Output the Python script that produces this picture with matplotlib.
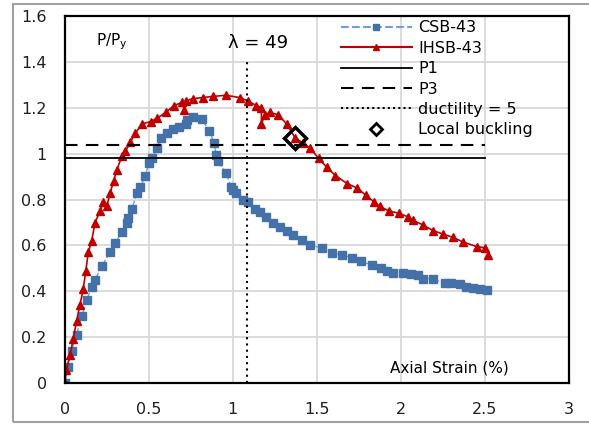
import matplotlib.pyplot as plt
from matplotlib.lines import Line2D
from matplotlib.patches import Rectangle

# CSB-43 test (strain %, P/Py)
csb_strain = [0, 0.02, 0.04, 0.07, 0.10, 0.13, 0.16, 0.18, 0.22, 0.27, 0.30, 0.34,
              0.37, 0.375, 0.40, 0.43, 0.45, 0.48, 0.50, 0.52, 0.55, 0.57, 0.61,
              0.645, 0.68, 0.72, 0.73, 0.76, 0.815, 0.86, 0.89, 0.90, 0.91, 0.96,
              0.99, 1.00, 1.02, 1.06, 1.09, 1.13, 1.16, 1.20, 1.24, 1.28, 1.32, 1.36,
              1.41, 1.46, 1.53, 1.59, 1.65, 1.71, 1.76, 1.83, 1.88, 1.92, 1.95,
              2.01, 2.06, 2.10, 2.13, 2.19, 2.26, 2.30, 2.35, 2.39, 2.43, 2.47, 2.51]
csb_load = [0, 0.07, 0.14, 0.21, 0.29, 0.36, 0.42, 0.45, 0.51, 0.57, 0.61, 0.66,
            0.70, 0.72, 0.76, 0.83, 0.855, 0.905, 0.96, 0.98, 1.025, 1.07, 1.09,
            1.11, 1.115, 1.13, 1.145, 1.16, 1.15, 1.10, 1.045, 0.995, 0.97, 0.915,
            0.855, 0.84, 0.83, 0.80, 0.79, 0.76, 0.745, 0.725, 0.70, 0.68, 0.665, 0.645,
            0.625, 0.60, 0.59, 0.565, 0.56, 0.545, 0.53, 0.515, 0.50, 0.49, 0.48,
            0.48, 0.475, 0.47, 0.455, 0.455, 0.435, 0.435, 0.43, 0.42, 0.415, 0.41, 0.405]

# IHSB-43 test
ihsb_strain = [0, 0.01, 0.03, 0.05, 0.07, 0.09, 0.11, 0.125, 0.14, 0.16, 0.18, 0.21,
               0.23, 0.25, 0.27, 0.29, 0.31, 0.34, 0.36, 0.39, 0.42, 0.46, 0.51,
               0.55, 0.60, 0.65, 0.70, 0.71, 0.72, 0.76, 0.82, 0.88, 0.96, 1.04,
               1.09, 1.14, 1.17, 1.17, 1.19, 1.22, 1.27, 1.32, 1.37, 1.42, 1.46,
               1.51, 1.56, 1.61, 1.68, 1.74, 1.79, 1.84, 1.875, 1.93, 1.99, 2.04,
               2.07, 2.13, 2.19, 2.25, 2.31, 2.37, 2.45, 2.50, 2.52]
ihsb_load = [0, 0.057, 0.12, 0.19, 0.27, 0.34, 0.41, 0.49, 0.57, 0.62, 0.70, 0.75,
             0.79, 0.77, 0.83, 0.88, 0.93, 0.99, 1.01, 1.05, 1.09, 1.13, 1.14,
             1.155, 1.18, 1.21, 1.225, 1.19, 1.23, 1.24, 1.245, 1.25, 1.255, 1.245,
             1.23, 1.21, 1.20, 1.13, 1.17, 1.18, 1.17, 1.13, 1.07, 1.045, 1.025,
             0.98, 0.94, 0.905, 0.87, 0.85, 0.82, 0.79, 0.77, 0.75, 0.74, 0.725,
             0.71, 0.69, 0.665, 0.65, 0.635, 0.615, 0.595, 0.59, 0.56]

p1_x = [0, 2.5]
p1_y = [0.98, 0.98]
p3_x = [0, 2.5]
p3_y = [1.037, 1.037]
duct_x = [1.083, 1.083]
duct_y = [0, 1.40]
buckle_x = [1.37]
buckle_y = [1.07]

blue = '#4472A8'
red = '#C00000'

fig = plt.figure(figsize=(5.89, 4.26), dpi=100)
ax = fig.add_axes([0.110, 0.101, 0.856, 0.861])

fig.patches.append(Rectangle((0.022, 0.009), 1.0, 0.981, transform=fig.transFigure,
                             fill=False, edgecolor='#A0A0A0', linewidth=1.5))

ax.plot(csb_strain, csb_load, linestyle='--', color='#6F9FD8', linewidth=1,
        marker='s', markersize=5.5, markerfacecolor=blue, markeredgecolor=blue)
ax.plot(ihsb_strain, ihsb_load, linestyle='-', color=red, linewidth=1.2,
        marker='^', markersize=5.5, markerfacecolor=red, markeredgecolor=red)
ax.plot(p1_x, p1_y, color='black', linewidth=1.3)
ax.plot(p3_x, p3_y, color='black', linewidth=1.5, dashes=(6, 4))
ax.plot(duct_x, duct_y, color='black', linewidth=1.5, dashes=(1, 2))
ax.plot(buckle_x, buckle_y, linestyle='none', marker='D', markersize=11,
        markerfacecolor='none', markeredgecolor='black', markeredgewidth=2.5)

ax.set_xlim(0, 3)
ax.set_ylim(0, 1.6)
ax.set_xticks([0, 0.5, 1, 1.5, 2, 2.5, 3])
ax.set_xticklabels(['0', '0.5', '1', '1.5', '2', '2.5', '3'])
ax.set_yticks([0, 0.2, 0.4, 0.6, 0.8, 1, 1.2, 1.4, 1.6])
ax.set_yticklabels(['0', '0.2', '0.4', '0.6', '0.8', '1', '1.2', '1.4', '1.6'])
ax.tick_params(length=0, labelsize=11.5, colors='#202020', pad=14)
ax.tick_params(axis='y', pad=13)
ax.grid(True, color='#D9D9D9', linewidth=1.3)
ax.set_axisbelow(True)
for s in ax.spines.values():
    s.set_linewidth(1.6)
    s.set_color('black')

ax.text(0.28, 1.49, 'P/P$_\\mathregular{y}$', fontsize=11, ha='center', va='center')
ax.text(1.15, 1.485, '\u03bb = 49', fontsize=13, ha='center', va='center')
ax.text(2.29, 0.065, 'Axial Strain (%)', fontsize=11, ha='center', va='center')

handles = [
    Line2D([], [], linestyle='--', color='#6F9FD8', marker='s', markersize=5,
           markerfacecolor=blue, markeredgecolor=blue),
    Line2D([], [], linestyle='-', color=red, marker='^', markersize=4,
           markerfacecolor=red, markeredgecolor=red),
    Line2D([], [], color='black', linewidth=1.3),
    Line2D([], [], color='black', linewidth=1.5, dashes=(6, 4)),
    Line2D([], [], color='black', linewidth=1.5, dashes=(1, 1.5)),
    Line2D([], [], linestyle='none', marker='D', markersize=6, markerfacecolor='white',
           markeredgecolor='black', markeredgewidth=2),
]
labels = ['CSB-43', 'IHSB-43', 'P1', 'P3', 'ductility = 5', 'Local buckling']
ax.legend(handles, labels, loc='upper left', bbox_to_anchor=(0.52, 1.028), frameon=False,
          fontsize=11.5, handlelength=4.4, handletextpad=0.4, labelspacing=0.34,
          numpoints=1)

fig.savefig('out.png', dpi=100)
